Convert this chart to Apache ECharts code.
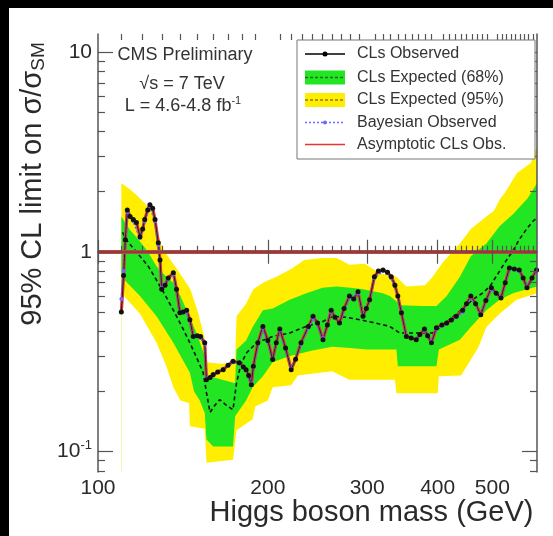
<!DOCTYPE html>
<html><head><meta charset="utf-8">
<script src="https://cdn.jsdelivr.net/npm/echarts@6/dist/echarts.min.js"></script>
<style>html,body{margin:0;padding:0;background:#000;}#c{width:553px;height:536px;background:#fff;box-shadow:inset 9px 8px 0 0 #000;}</style>
</head><body><div id="c"></div>
<script>
// ---------- data ----------
const xMajorTicks = [100, 200, 300, 400, 500];
const xTickLabels = ['100', '200', '300', '400', '500'];
const xMinorTicks = [110,120,130,140,150,160,170,180,190,210,220,230,240,250,260,270,280,290,310,320,330,340,350,360,370,380,390,410,420,430,440,450,460,470,480,490,510,520,530,540,550,560,570,580,590];
const yMajorTicks = [0.1, 1, 10];
const yMinorTicks = [0.08,0.09,0.2,0.3,0.4,0.5,0.6,0.7,0.8,0.9,2,3,4,5,6,7,8,9];

const observed = [[110,0.50],[111,0.76],[111.8,1.15],[112.7,1.62],[114,1.50],[115.5,1.45],[117,1.40],[118.7,1.19],[120,1.30],[121,1.45],[122.5,1.62],[123.6,1.72],[125,1.65],[126.2,1.45],[127.9,1.11],[128.8,0.91],[129.7,0.65],[131.5,0.68],[133.2,0.74],[136,0.785],[137.8,0.65],[139.7,0.495],[141.5,0.50],[143.6,0.51],[145.5,0.457],[147.5,0.377],[150,0.38],[152,0.377],[154.6,0.35],[155.7,0.229],[158,0.235],[160,0.242],[163,0.25],[166.7,0.257],[170,0.27],[173.5,0.283],[178,0.278],[181,0.265],[183,0.257],[185,0.24],[187,0.216],[188.5,0.267],[192,0.35],[196,0.423],[200,0.36],[204,0.289],[207,0.35],[210,0.41],[215,0.33],[220,0.257],[224,0.29],[229,0.35],[236,0.423],[240.5,0.475],[245,0.44],[250.5,0.363],[255,0.43],[259,0.51],[263,0.47],[268,0.44],[273,0.52],[279,0.60],[284,0.58],[289,0.63],[295,0.475],[299,0.52],[303,0.575],[309,0.75],[314,0.80],[320,0.81],[326,0.79],[331,0.75],[336,0.68],[340,0.60],[345,0.495],[352,0.377],[359,0.37],[366.5,0.363],[372,0.385],[379,0.41],[384,0.38],[390,0.35],[398,0.417],[407,0.43],[415,0.44],[423,0.455],[431.5,0.475],[443,0.51],[450,0.55],[458,0.60],[467,0.55],[477,0.484],[487,0.57],[498,0.66],[508,0.62],[518,0.587],[527,0.70],[536,0.83],[547,0.82],[558,0.81],[567,0.74],[576,0.66],[588,0.74],[599,0.81]];

const bayesian = [[110,0.58],[111,0.8],[112.7,1.58],[115.5,1.42],[118.7,1.17],[121,1.42],[123.6,1.68],[126.2,1.42],[127.9,1.08],[129.7,0.66],[133.2,0.73],[136,0.77],[139.7,0.5],[143.6,0.5],[147.5,0.38],[152,0.37],[154.6,0.345],[155.7,0.232],[160,0.245],[166.7,0.26],[173.5,0.28],[178,0.275],[183,0.255],[187,0.22],[188.5,0.265],[196,0.415],[204,0.29],[210,0.405],[220,0.26],[229,0.345],[236,0.415],[240.5,0.465],[250.5,0.37],[259,0.5],[268,0.44],[279,0.59],[289,0.62],[295,0.48],[303,0.57],[309,0.74],[320,0.8],[331,0.74],[340,0.6],[345,0.5],[352,0.38],[366.5,0.365],[379,0.405],[390,0.355],[398,0.41],[415,0.435],[431.5,0.47],[443,0.5],[458,0.59],[477,0.49],[498,0.65],[518,0.59],[536,0.82],[558,0.8],[576,0.67],[599,0.8]];

const expected = [[110.5,1.25],[113,1.12],[118.7,0.95],[123,0.84],[127,0.72],[131,0.62],[136,0.51],[141,0.42],[145.5,0.35],[150,0.29],[153.6,0.248],[155.7,0.197],[158,0.157],[161,0.17],[164.4,0.182],[169,0.17],[173.5,0.162],[176,0.22],[179,0.27],[183,0.31],[191,0.35],[204,0.377],[218.7,0.392],[234,0.423],[250.5,0.448],[260.6,0.475],[275,0.47],[291,0.457],[310,0.44],[329,0.423],[342.5,0.392],[356.6,0.392],[375,0.392],[392,0.392],[405,0.42],[420,0.457],[440,0.51],[461,0.575],[480,0.62],[495,0.67],[512,0.78],[530,0.91],[545,1.02],[558,1.15],[575,1.3],[590,1.42],[600,1.48]];

const band68Up = [[110,1.5],[113.9,1.29],[118,1.15],[122,1.02],[127,0.845],[131,0.77],[136,0.70],[140,0.60],[143.6,0.51],[149.5,0.392],[154.6,0.30],[155.5,0.24],[165,0.23],[175,0.22],[176,0.324],[183,0.36],[188,0.42],[196,0.51],[204,0.52],[218.7,0.575],[234,0.62],[250,0.66],[265,0.67],[280,0.66],[295,0.65],[320,0.62],[329,0.60],[345,0.54],[375,0.535],[398,0.535],[415,0.60],[438,0.75],[458,0.95],[488,1.1],[515,1.34],[545,1.55],[577,1.85],[600,2.2]];

const band68Down = [[110,0.75],[118.7,0.60],[127,0.475],[136,0.35],[145.5,0.248],[148,0.20],[151.5,0.18],[154.6,0.156],[155.7,0.115],[160,0.106],[173.5,0.106],[175,0.15],[183,0.18],[188,0.21],[196,0.238],[204,0.28],[218,0.30],[240,0.32],[260,0.335],[280,0.33],[300,0.324],[338,0.324],[340,0.267],[398,0.267],[402,0.324],[438,0.363],[458,0.42],[488,0.51],[515,0.575],[544,0.62],[600,0.67]];

const band95Up = [[110,2.2],[114,2.05],[117.8,1.89],[121,1.75],[124.5,1.59],[127,1.3],[129.8,1.06],[133,0.95],[137.6,0.83],[141,0.75],[145.8,0.65],[150,0.51],[154.5,0.37],[155.7,0.28],[165,0.275],[175,0.278],[176,0.475],[183,0.55],[188.5,0.65],[196,0.70],[207,0.75],[220,0.82],[232,0.91],[250,0.93],[265,0.93],[279,0.86],[297,0.87],[316,0.78],[338,0.75],[352,0.67],[380,0.68],[392,0.75],[408,0.88],[438,1.1],[458,1.3],[488,1.5],[503,1.6],[515,1.82],[526,1.97],[553,2.48],[585,2.78],[600,3.35]];

const band95Down = [[110,0.62],[118.7,0.49],[127,0.35],[132,0.27],[136,0.21],[140,0.18],[145,0.175],[145.5,0.134],[154.6,0.13],[155.7,0.088],[173.5,0.091],[176,0.128],[188,0.145],[190,0.168],[200,0.18],[204,0.21],[220,0.215],[226,0.24],[260,0.252],[279,0.229],[336,0.229],[338,0.196],[400,0.196],[402,0.238],[440,0.24],[458,0.288],[473,0.336],[488,0.42],[515,0.49],[552,0.575],[600,0.62]];

const smLimit = 1;

// ---------- styling ----------
const FONT = '"Liberation Sans", Arial, Helvetica, sans-serif';
const YELLOW = '#ffee00', GREEN = '#22e622', RED = '#e8342c', BLUE = '#6a6aff';
const TXT = '#2a2a2a', AX = '#555';
const lg = Math.log10;
const X0 = lg(100), X1 = lg(600), Y0 = lg(0.079), Y1 = lg(12.3);

function tickX(pos, vals, len, line, extra) {
  return Object.assign({
    type: 'value', min: X0, max: X1, position: pos, z: 10,
    axisLine: { show: line, lineStyle: { color: AX, width: 1.5 } }, splitLine: { show: false },
    axisTick: { show: true, inside: true, length: len, customValues: vals.map(lg), lineStyle: { color: AX, width: 1.2 } },
    axisLabel: { show: false }
  }, extra || {});
}
function tickY(pos, vals, len, line, extra) {
  return Object.assign({
    type: 'value', min: Y0, max: Y1, position: pos, z: 10,
    axisLine: { show: line, lineStyle: { color: AX, width: 1.5 } }, splitLine: { show: false },
    axisTick: { show: true, inside: true, length: len, customValues: vals.map(lg), lineStyle: { color: AX, width: 1.2 } },
    axisLabel: { show: false }
  }, extra || {});
}

const xMain = tickX('bottom', xMajorTicks, 12, true, {
  axisLabel: {
    show: true, customValues: xMajorTicks.map(lg), margin: 6,
    fontSize: 21, color: TXT, fontFamily: FONT,
    formatter: v => { const i = xMajorTicks.findIndex(t => Math.abs(lg(t) - v) < 1e-6); return i >= 0 ? xTickLabels[i] : ''; }
  },
  name: 'Higgs boson mass (GeV)', nameLocation: 'middle', nameGap: 26, nameMoveOverlap: false,
  nameTextStyle: { fontSize: 29, color: TXT, fontFamily: FONT, padding: [0, 0, 0, 108] }
});
const yMain = tickY('left', yMajorTicks, 15, true, {
  axisLabel: {
    show: true, customValues: yMajorTicks.map(lg), margin: 6, fontFamily: FONT,
    formatter: v => (Math.abs(v + 1) < 1e-6 ? '{b|10}{s|-1}' : (Math.abs(v) < 1e-6 ? '{b|1}' : '{b|10}')),
    rich: { b: { fontSize: 21, color: TXT, fontFamily: FONT }, s: { fontSize: 13, color: TXT, fontFamily: FONT, padding: [0, 0, 12, 0] } }
  },
  name: '{a|95% CL limit on σ/σ}{s|SM}', nameLocation: 'middle', nameRotate: 90, nameGap: 50, nameMoveOverlap: false,
  nameTextStyle: {
    padding: [0, 0, 0, 138],
    rich: { a: { fontSize: 29, color: TXT, fontFamily: FONT }, s: { fontSize: 19, color: TXT, fontFamily: FONT, padding: [12, 0, 0, 0] } }
  }
});

function band(name, data, color) {
  return { name, type: 'line', data, xAxisIndex: 0, yAxisIndex: 0, showSymbol: false, symbol: 'none',
    lineStyle: { width: 0, opacity: 0 }, areaStyle: { color, opacity: 1, origin: 'start' }, silent: true };
}

const legendRows = [54, 77.5, 100, 122.5, 144.5];
const legendTexts = ['CLs Observed', 'CLs Expected (68%)', 'CLs Expected (95%)', 'Bayesian Observed', 'Asymptotic CLs Obs.'];
const gfx = [
  { type: 'rect', z: 100, shape: { x: 297, y: 40, width: 238, height: 119 }, style: { fill: '#fff', stroke: '#777', lineWidth: 1 } },
  { type: 'line', z: 101, shape: { x1: 305, y1: legendRows[0], x2: 345, y2: legendRows[0] }, style: { stroke: '#000', lineWidth: 1.5 } },
  { type: 'circle', z: 102, shape: { cx: 325, cy: legendRows[0], r: 2.5 }, style: { fill: '#000' } },
  { type: 'rect', z: 101, shape: { x: 305, y: legendRows[1] - 7, width: 40, height: 14 }, style: { fill: GREEN } },
  { type: 'line', z: 102, shape: { x1: 305, y1: legendRows[1], x2: 345, y2: legendRows[1] }, style: { stroke: '#1a6a1a', lineWidth: 1.5, lineDash: [3, 2] } },
  { type: 'rect', z: 101, shape: { x: 305, y: legendRows[2] - 7, width: 40, height: 14 }, style: { fill: YELLOW } },
  { type: 'line', z: 102, shape: { x1: 305, y1: legendRows[2], x2: 345, y2: legendRows[2] }, style: { stroke: '#8a7a10', lineWidth: 1.5, lineDash: [3, 2] } },
  { type: 'line', z: 101, shape: { x1: 305, y1: legendRows[3], x2: 345, y2: legendRows[3] }, style: { stroke: BLUE, lineWidth: 1.5, lineDash: [2, 2] } },
  { type: 'circle', z: 102, shape: { cx: 325, cy: legendRows[3], r: 2 }, style: { fill: BLUE } },
  { type: 'line', z: 101, shape: { x1: 305, y1: legendRows[4], x2: 345, y2: legendRows[4] }, style: { stroke: RED, lineWidth: 1.5 } },
  { type: 'text', z: 103, x: 185, y: 55, style: { text: 'CMS Preliminary', fontSize: 18, fontFamily: FONT, fill: '#333', textAlign: 'center', textVerticalAlign: 'middle' } },
  { type: 'text', z: 103, x: 182, y: 84, style: { text: '√s = 7 TeV', fontSize: 18, fontFamily: FONT, fill: '#333', textAlign: 'center', textVerticalAlign: 'middle' } },
  { type: 'text', z: 103, x: 183, y: 106, style: { text: '{a|L = 4.6-4.8 fb}{s|-1}', textAlign: 'center', textVerticalAlign: 'middle',
      rich: { a: { fontSize: 18, fontFamily: FONT, fill: '#333', color: '#333' }, s: { fontSize: 11, fontFamily: FONT, fill: '#333', color: '#333', padding: [0, 0, 10, 0] } } } }
];
legendTexts.forEach((t, i) => gfx.push({ type: 'text', z: 103, x: 357, y: legendRows[i],
  style: { text: t, fontSize: 16, fontFamily: FONT, fill: '#333', textAlign: 'left', textVerticalAlign: 'middle' } }));

const option = {
  animation: false,
  backgroundColor: 'transparent',
  grid: { left: 98, top: 34, right: 16, bottom: 64, show: false },
  xAxis: [
    { type: 'log', logBase: 10, min: 100, max: 600, show: false },
    xMain,
    tickX('bottom', xMinorTicks, 6, false),
    tickX('top', xMajorTicks, 12, true),
    tickX('top', xMinorTicks, 6, false)
  ],
  yAxis: [
    { type: 'log', logBase: 10, min: 0.079, max: 12.3, show: false },
    yMain,
    tickY('left', yMinorTicks, 7, false),
    tickY('right', yMajorTicks, 15, true),
    tickY('right', yMinorTicks, 7, false)
  ],
  graphic: gfx,
  series: [
    band('CLs Expected (95%) up', band95Up, YELLOW),
    band('CLs Expected (68%) up', band68Up, GREEN),
    band('CLs Expected (68%) down', band68Down, YELLOW),
    band('CLs Expected (95%) down', band95Down, '#fff'),
    { name: 'CLs Expected', type: 'line', data: expected, showSymbol: false, symbol: 'none',
      lineStyle: { color: '#111', width: 1.6, type: [4, 3] } },
    { name: 'Asymptotic CLs Obs.', type: 'line', data: observed, showSymbol: false, symbol: 'none',
      lineStyle: { color: RED, width: 3.2 },
      markLine: { silent: true, symbol: 'none', label: { show: false }, lineStyle: { color: RED, width: 4, type: 'solid' }, data: [{ yAxis: smLimit }] } },
    { name: 'Bayesian Observed', type: 'line', data: bayesian, symbol: 'circle', symbolSize: 4,
      itemStyle: { color: BLUE }, lineStyle: { color: BLUE, width: 2, type: [2, 2] } },
    { name: 'CLs Observed', type: 'line', data: observed, symbol: 'circle', symbolSize: 5,
      itemStyle: { color: '#111' }, lineStyle: { color: '#222', width: 1 } }
  ]
};
const chart = echarts.init(document.getElementById('c'));
chart.setOption(option);
</script>
</body></html>
